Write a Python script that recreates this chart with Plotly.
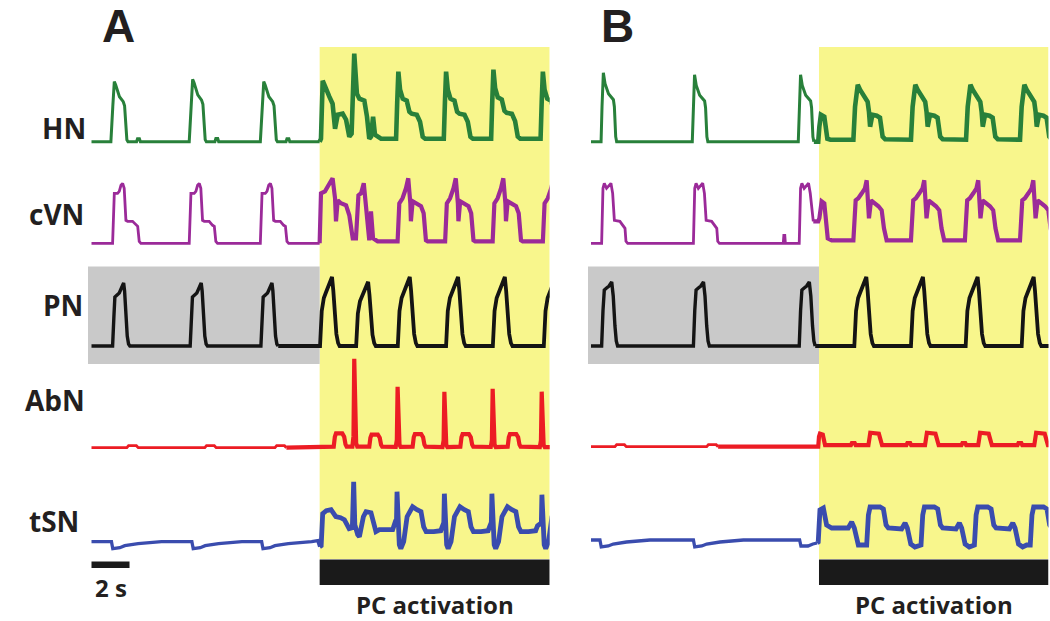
import plotly.graph_objects as go

# ---------------- data (time in s, amplitude in a.u.) ----------------
# HN
HN_CTRL_A_T = [0, 0.10, 0.18, 0.25, 0.45, 0.65, 0.72, 0.84, 0.90, 1.35, 1.40, 1.50, 1.55]
HN_CTRL_A_V = [0, 35, 60, 57, 45, 40, 36, 2, 0, 0, 3, 3, 0]
HN_CTRL_A_ON = [1.02, 5.14, 8.88]
HN_CTRL_A_SC = [1.0, 1.04, 1.0]
HN_PC_A_T = [0, 0.06, 0.12, 0.21, 0.35, 0.56, 0.70, 0.82, 1.09, 1.26, 1.40, 1.53]
HN_PC_A_V = [3, 40, 70, 52, 43, 41, 30, 28, 27, 20, 5, 3]
HN_PC_A_ON = [16.02, 18.53, 21.02, 23.62]
HN_PC_A_SC = [1.0, 1.0, 1.03, 1.0]
HN_A_FIRST_T = [12.0, 12.07, 12.16, 12.33, 12.51, 12.68, 12.81, 12.95, 13.21, 13.39, 13.56, 13.68,
                13.82, 13.96, 14.09, 14.35, 14.49, 14.61, 14.70, 14.81, 14.91, 15.23]
HN_A_FIRST_V = [0, 3, 61, 52, 45, 38, 13, 27, 28, 22, 5, 8, 88, 48, 43, 41, 25, 3, 5, 25, 7, 3]

HN_CTRL_B_T = [0, 0.05, 0.12, 0.21, 0.39, 0.65, 0.70, 0.77, 0.82]
HN_CTRL_B_V = [0, 35, 69, 58, 48, 42, 35, 5, 0]
HN_CTRL_B_ON = [0.53, 5.33, 10.91]
HN_CTRL_B_SC = [1.0, 0.97, 0.97]
HN_B_FIRST_T = [11.96, 12.02, 12.10, 12.28, 12.38, 12.44, 12.60]
HN_B_FIRST_V = [0, 15, 27, 25, 10, 3, 2]
HN_PC_B_T = [0, 0.088, 0.23, 0.35, 0.53, 0.75, 0.82, 0.88, 1.0, 1.23, 1.40, 1.54, 1.67]
HN_PC_B_V = [2, 35, 57, 52, 47, 40, 30, 15, 27, 26, 24, 5, 2.5]
HN_PC_B_ON = [13.81, 16.84, 19.74, 22.58]

# cVN
CVN_CTRL_A_T = [0, 0.09, 0.26, 0.35, 0.44, 0.53, 0.61, 0.70, 0.79, 1.05, 1.23, 1.32, 1.40, 1.49]
CVN_CTRL_A_V = [0, 50, 50, 52, 58, 60, 55, 23, 22, 22, 18, 17, 2, 0]
CVN_CTRL_A_ON = [1.11, 5.14, 8.88]
CVN_PC_A_T = [0, 0.09, 0.26, 0.44, 0.56, 0.67, 0.70, 0.79, 0.96, 1.23, 1.37, 1.49, 1.58]
CVN_PC_A_V = [2, 40, 45, 55, 65, 40, 22, 42, 40, 37, 30, 3, 2]
CVN_PC_A_ON = [16.1, 18.6, 21.1, 23.74]
CVN_A_FIRST_T = [12.0, 12.07, 12.28, 12.46, 12.68, 12.81, 12.86, 12.95, 13.12, 13.39, 13.56, 13.74,
                 13.91, 14.04, 14.18, 14.32, 14.49, 14.61, 14.70, 14.81, 15.05]
CVN_A_FIRST_V = [0, 50, 52, 58, 65, 45, 22, 43, 40, 38, 28, 5, 5, 48, 50, 60, 30, 3, 32, 5, 2]

CVN_CTRL_B_T = [0, 0.07, 0.14, 0.26, 0.35, 0.49, 0.58, 0.67, 0.96, 1.14, 1.23, 1.28, 1.37]
CVN_CTRL_B_V = [0, 55, 60, 55, 57, 60, 50, 23, 22, 18, 15, 2, 0]
CVN_CTRL_B_ON = [0.56, 5.39]
CVN_B_BLIP_T = [10.12, 10.15, 10.20, 10.23]
CVN_B_BLIP_V = [0, 8, 8, 0]
CVN_B_THIRD_T = [10.96, 11.03, 11.10, 11.22, 11.31, 11.45, 11.54, 11.63, 11.70, 11.96,
                 12.02, 12.14, 12.28, 12.46, 12.67]
CVN_B_THIRD_V = [0, 55, 60, 55, 57, 60, 50, 30, 22, 22, 25, 42, 40, 5, 3]
CVN_PC_B_T = [0, 0.12, 0.26, 0.44, 0.61, 0.70, 0.82, 0.93, 1.14, 1.32, 1.49, 1.61, 1.75, 1.84]
CVN_PC_B_V = [3, 43, 45, 50, 55, 63, 25, 43, 40, 37, 33, 15, 3, 3]
CVN_PC_B_ON = [13.81, 16.84, 19.68, 22.58]

# PN
PN_CTRL_A_T = [0, 0.07, 0.12, 0.35, 0.58, 0.63, 0.70, 0.77, 0.84, 0.91]
PN_CTRL_A_V = [0, 30, 49, 53, 63, 55, 30, 10, 2, 0]
PN_CTRL_A_ON = [1.11, 5.19, 8.91]
PN_CTRL_B_T = [0, 0.07, 0.14, 0.26, 0.39, 0.53, 0.61, 0.70, 0.77, 0.84]
PN_CTRL_B_V = [0, 35, 56, 58, 60, 64, 50, 20, 5, 0]
PN_CTRL_B_ON = [0.56, 5.39, 10.96]
PN_PC_T = [0, 0.09, 0.20, 0.30, 0.45, 0.63, 0.70, 0.78, 0.86, 0.95, 1.03]
PN_PC_V = [0, 35, 48, 53, 60, 69, 55, 30, 12, 3, 0]
PN_PC_A_ON = [12.02, 13.92, 16.11, 18.65, 21.11, 23.79]
PN_PC_A_SC = [1.0, 0.93, 1.0, 1.0, 1.0, 1.0]
PN_PC_B_ON = [13.86, 16.84, 19.72, 22.67]

# AbN
ABN_BLIP_T = [0, 0.09, 0.50, 0.60]
ABN_BLIP_V = [0, 2, 2, 0]
ABN_CTRL_A_ON = [1.86, 5.96, 9.65]
ABN_CTRL_B_ON = [1.26, 6.09]
ABN_SPIKE_T = [-0.10, -0.04, 0, 0.05, 0.10, 0.16]
ABN_SPIKE_V = [0.012, 0.13, 1.0, 0.2, 0.05, 0.012]
ABN_SPIKE_A_ON = [13.82, 16.10, 18.56, 21.10, 23.68]
ABN_SPIKE_A_PK = [89, 61, 56, 59, 56]
ABN_HUMP_A_T = [0, 0.06, 0.12, 0.45, 0.55, 0.62, 0.68]
ABN_HUMP_A_V = [1, 10, 13, 13, 10, 3, 1]
ABN_HUMP_A_ON = [12.74, 14.61, 16.89, 19.40, 21.89]
ABN_HUMP_A_SC = [1.1, 1.0, 1.05, 1.05, 1.05]
ABN_B_FIRST_T = [11.96, 12.00, 12.05, 12.20, 12.26, 12.32]
ABN_B_FIRST_V = [0, 10, 13, 12, 3, 1.5]
ABN_HUMP_B_T = [0, 0.05, 0.10, 0.55, 0.62, 0.68, 0.72]
ABN_HUMP_B_V = [1.5, 11, 14, 13, 8, 3, 1.5]
ABN_HUMP_B_ON = [14.60, 17.58, 20.38, 23.33]
ABN_SMALL_B_T = [0, 0.05, 0.20, 0.25]
ABN_SMALL_B_V = [1.5, 3.5, 3.5, 1.5]
ABN_SMALL_B_ON = [13.68, 16.60, 19.50, 22.45]

# tSN
TSN_DIP_T = [0, 0.07, 0.44, 0.70, 1.40, 2.63]
TSN_DIP_V = [0, -7, -6, -4, -2, 0]
TSN_CTRL_A_ON = [1.05, 5.28, 8.95]
TSN_A_FIRST_T = [11.90, 12.00, 12.08, 12.16, 12.35, 12.60, 12.85, 13.10, 13.30, 13.55, 13.72,
                 13.79, 13.85, 14.00, 14.09, 14.30, 14.44, 14.70, 14.85, 14.96, 15.14, 15.84, 15.98]
TSN_A_FIRST_V = [1, -5, -4, 28, 31, 32, 25, 24, 22, 13, 14, 60, 17, 7, 5, 25, 30, 29, 18, 10, 12, 12, 20]
TSN_SPIKE_T = [-0.03, 0, 0.05]
TSN_SPIKE_V = [0.4, 1.0, 0.2]
TSN_SPIKE_A_ON = [16.07, 18.56, 21.06, 23.69]
TSN_SPIKE_A_PK = [50, 48, 48, 47]
TSN_CYCLE_A_T = [0.12, 0.20, 0.35, 0.53, 0.82, 1.05, 1.26, 1.40, 1.53, 1.93, 2.30, 2.40]
TSN_CYCLE_A_V = [-3, -7, 0, 25, 35, 32, 30, 15, 10, 10, 11, 16]
TSN_CTRL_B_ON = [0.47, 5.39]
TSN_B_THIRD_DIP_T = [10.98, 11.05, 11.42, 11.68, 11.90]
TSN_B_THIRD_DIP_V = [0, -6, -6, -4, -3]
TSN_B_FIRST_T = [11.96, 12.05, 12.23, 12.40, 12.67, 13.54, 13.72, 13.86, 14.07, 14.33]
TSN_B_FIRST_V = [-2, 30, 32, 15, 12, 12, 18, 12, -5, -5]
TSN_CYCLE_B_T = [0, 0.09, 0.18, 0.70, 0.88, 1.02, 1.14, 1.84, 2.02, 2.14, 2.32, 2.54, 2.75]
TSN_CYCLE_B_V = [-5, 25, 33, 33, 31, 15, 12, 11, 17, 12, -4, -7, -5]
TSN_CYCLE_B_ON = [14.51, 17.37, 20.18, 23.12]

ROW_LABELS = ["HN", "cVN", "PN", "AbN", "tSN"]
PANELS = ["A", "B"]
PC_LABEL = "PC activation"
SCALE_LABEL = "2 s"
PC_START = 12.0
T_END = 24.1
SCALE_BAR_S = 2

# ---------------- helpers ----------------
def ev(onsets, T, V, scales=None):
    out = []
    for i, on in enumerate(onsets):
        sc = scales[i] if scales else 1.0
        out.append(([on + t for t in T], [v * sc for v in V]))
    return out

def single(T, V):
    return [(list(T), list(V))]

def build(evts, split):
    evts = sorted(evts, key=lambda e: e[0][0])
    ts, vs = [0.0], [0.0]
    for T, V in evts:
        ts += T
        vs += V
    if ts[-1] < T_END:
        ts.append(T_END + 0.2)
        vs.append(vs[-1])
    ctrl_t, ctrl_v, pc_t, pc_v = [], [], [], []
    for t, v in zip(ts, vs):
        if t <= split:
            ctrl_t.append(t); ctrl_v.append(v)
        else:
            pc_t.append(t); pc_v.append(v)
    pc_t = [ctrl_t[-1]] + pc_t
    pc_v = [ctrl_v[-1]] + pc_v
    return ctrl_t, ctrl_v, pc_t, pc_v

rows = {
    "A": [
        ev(HN_CTRL_A_ON, HN_CTRL_A_T, HN_CTRL_A_V, HN_CTRL_A_SC) + single(HN_A_FIRST_T, HN_A_FIRST_V)
        + ev(HN_PC_A_ON, HN_PC_A_T, HN_PC_A_V, HN_PC_A_SC),
        ev(CVN_CTRL_A_ON, CVN_CTRL_A_T, CVN_CTRL_A_V) + single(CVN_A_FIRST_T, CVN_A_FIRST_V)
        + ev(CVN_PC_A_ON, CVN_PC_A_T, CVN_PC_A_V),
        ev(PN_CTRL_A_ON, PN_CTRL_A_T, PN_CTRL_A_V) + ev(PN_PC_A_ON, PN_PC_T, PN_PC_V, PN_PC_A_SC),
        ev(ABN_CTRL_A_ON, ABN_BLIP_T, ABN_BLIP_V) + ev(ABN_SPIKE_A_ON, ABN_SPIKE_T, ABN_SPIKE_V, ABN_SPIKE_A_PK)
        + ev(ABN_HUMP_A_ON, ABN_HUMP_A_T, ABN_HUMP_A_V, ABN_HUMP_A_SC),
        ev(TSN_CTRL_A_ON, TSN_DIP_T, TSN_DIP_V) + single(TSN_A_FIRST_T, TSN_A_FIRST_V)
        + ev(TSN_SPIKE_A_ON, TSN_SPIKE_T, TSN_SPIKE_V, TSN_SPIKE_A_PK)
        + ev(TSN_SPIKE_A_ON, TSN_CYCLE_A_T, TSN_CYCLE_A_V),
    ],
    "B": [
        ev(HN_CTRL_B_ON, HN_CTRL_B_T, HN_CTRL_B_V, HN_CTRL_B_SC) + single(HN_B_FIRST_T, HN_B_FIRST_V)
        + ev(HN_PC_B_ON, HN_PC_B_T, HN_PC_B_V),
        ev(CVN_CTRL_B_ON, CVN_CTRL_B_T, CVN_CTRL_B_V) + single(CVN_B_BLIP_T, CVN_B_BLIP_V)
        + single(CVN_B_THIRD_T, CVN_B_THIRD_V) + ev(CVN_PC_B_ON, CVN_PC_B_T, CVN_PC_B_V),
        ev(PN_CTRL_B_ON, PN_CTRL_B_T, PN_CTRL_B_V) + ev(PN_PC_B_ON, PN_PC_T, PN_PC_V),
        ev(ABN_CTRL_B_ON, ABN_BLIP_T, ABN_BLIP_V) + single(ABN_B_FIRST_T, ABN_B_FIRST_V)
        + ev(ABN_SMALL_B_ON, ABN_SMALL_B_T, ABN_SMALL_B_V) + ev(ABN_HUMP_B_ON, ABN_HUMP_B_T, ABN_HUMP_B_V),
        ev(TSN_CTRL_B_ON, TSN_DIP_T, TSN_DIP_V) + single(TSN_B_THIRD_DIP_T, TSN_B_THIRD_DIP_V)
        + single(TSN_B_FIRST_T, TSN_B_FIRST_V) + ev(TSN_CYCLE_B_ON, TSN_CYCLE_B_T, TSN_CYCLE_B_V),
    ],
}

# ---------------- layout constants ----------------
W, H = 1050, 621
COLORS = ["#28803a", "#9b2a99", "#141414", "#ec1c24", "#3a4cae"]
CTRL_W = [3, 2.8, 3.4, 2.8, 3.3]
PC_W = [4.6, 4.2, 3.8, 4.2, 4.8]
ROW_BASE = {"A": [141.7, 243.3, 346.0, 447.7, 541.7], "B": [141.7, 243.3, 346.0, 446.7, 540.0]}
SPLIT = {"A": 12.0, "B": 11.95}
XAX = {"A": ("x", "xaxis", [88, 549.7], [-0.184, T_END]),
       "B": ("x2", "xaxis2", [588, 1048.5], [-0.158, 24.08])}

fig = go.Figure()
for p in PANELS:
    xref = XAX[p][0]
    for i in range(5):
        ct, cv, pt, pv = build(rows[p][i], SPLIT[p])
        base = ROW_BASE[p][i]
        fig.add_trace(go.Scatter(x=ct, y=[base - v for v in cv], xaxis=xref, yaxis="y", mode="lines",
                                 line=dict(color=COLORS[i], width=CTRL_W[i]), hoverinfo="skip",
                                 showlegend=False))
        fig.add_trace(go.Scatter(x=pt, y=[base - v for v in pv], xaxis=xref, yaxis="y", mode="lines",
                                 line=dict(color=COLORS[i], width=PC_W[i]),
                                 hoverinfo="skip", showlegend=False))

shapes = []
for p in PANELS:
    xr = XAX[p][0]
    x_end = XAX[p][3][1]
    x_start = XAX[p][3][0]
    shapes.append(dict(type="rect", xref=xr, yref="y", x0=PC_START, x1=x_end, y0=47, y1=559,
                       fillcolor="#f8f68c", line=dict(width=0), layer="below"))
    shapes.append(dict(type="rect", xref=xr, yref="y", x0=x_start, x1=PC_START, y0=266.5, y1=364,
                       fillcolor="#c9c9c9", line=dict(width=0), layer="below"))
    shapes.append(dict(type="rect", xref=xr, yref="y", x0=PC_START, x1=x_end, y0=559.5, y1=585,
                       fillcolor="#1a1a1a", line=dict(width=0), layer="above"))
shapes.append(dict(type="rect", xref="x", yref="y", x0=0, x1=SCALE_BAR_S, y0=561.5, y1=568,
                   fillcolor="#1a1a1a", line=dict(width=0)))

FONT = "Open Sans"
ann = []
def addtext(text, px, py, size, family=FONT):
    ann.append(dict(text="<b>%s</b>" % text, x=px / W, y=1 - py / H, xref="paper", yref="paper",
                    showarrow=False, xanchor="center", yanchor="middle",
                    font=dict(family=family, size=size, color="#231f20")))

addtext(PANELS[0], 118, 26, 46, "Liberation Sans")
addtext(PANELS[1], 617, 26, 46, "Liberation Sans")
label_pos = [(64, 128), (56, 214), (63, 305), (55, 400), (54, 521)]
for lab, (px, py) in zip(ROW_LABELS, label_pos):
    addtext(lab, px, py, 28)
addtext(SCALE_LABEL, 111, 587, 24)
addtext(PC_LABEL, 435, 604, 24)
addtext(PC_LABEL, 934, 604, 24)

axis_common = dict(visible=False, showgrid=False, zeroline=False, fixedrange=True)
fig.update_layout(
    width=W, height=H, margin=dict(l=0, r=0, t=0, b=0),
    paper_bgcolor="white", plot_bgcolor="rgba(0,0,0,0)",
    xaxis=dict(domain=[XAX["A"][2][0] / W, XAX["A"][2][1] / W], range=XAX["A"][3], anchor="y", **axis_common),
    xaxis2=dict(domain=[XAX["B"][2][0] / W, XAX["B"][2][1] / W], range=XAX["B"][3], anchor="y", **axis_common),
    yaxis=dict(domain=[0, 1], range=[H, 0], **axis_common),
    shapes=shapes, annotations=ann, showlegend=False,
)
fig.write_html("out.html", config={"displayModeBar": False, "staticPlot": True},
               post_script="document.body.style.margin='0';document.body.style.padding='0';"
                           "document.body.style.overflow='hidden';")
